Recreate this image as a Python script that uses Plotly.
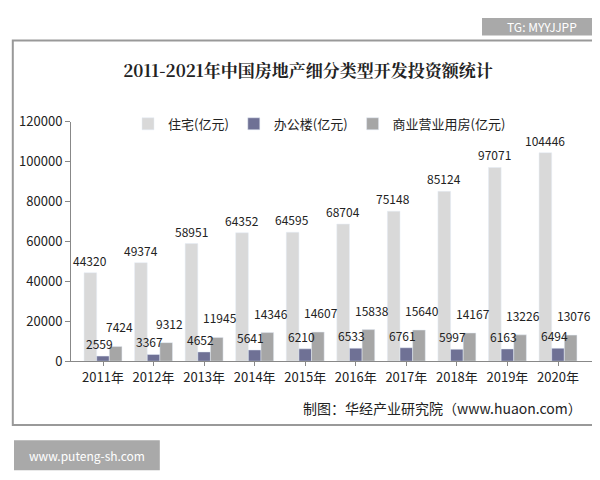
import plotly.graph_objects as go

years = ["2011年","2012年","2013年","2014年","2015年","2016年","2017年","2018年","2019年","2020年"]
residential = [44320,49374,58951,64352,64595,68704,75148,85124,97071,104446]
office = [2559,3367,4652,5641,6210,6533,6761,5997,6163,6494]
commercial = [7424,9312,11945,14346,14607,15838,15640,14167,13226,13076]

font = "Noto Sans CJK SC"
fig = go.Figure()
series = [("住宅(亿元)", residential, "#d9d9d9", -13, 2),
          ("办公楼(亿元)", office, "#6f7195", -4, 2),
          ("商业营业用房(亿元)", commercial, "#a6a6a6", 16, 9)]
ann = []
for name, vals, col, xs, ys in series:
    fig.add_bar(x=years, y=vals, name=name, marker_color=col)
    for yr, v in zip(years, vals):
        ann.append(dict(x=yr, y=v, xref="x", yref="y", text=str(v), showarrow=False,
                        xshift=xs, yshift=ys, yanchor="bottom", xanchor="center",
                        font=dict(size=12, color="#222")))

fig.update_layout(
    width=600, height=480, margin=dict(l=0, r=0, t=0, b=0),
    paper_bgcolor="white", plot_bgcolor="white",
    font=dict(family=font, size=12, color="#222"),
    barmode="group", bargap=0.25, bargroupgap=0.0,
    xaxis=dict(domain=[0.105, 0.975], showline=True, linecolor="#888", ticks="outside",
               tickcolor="#888", ticklen=4, tickfont=dict(size=13)),
    yaxis=dict(domain=[0.2555, 0.775], range=[0, 120000], dtick=20000, showgrid=False,
               showline=True, linecolor="#888", ticks="outside", tickcolor="#888",
               tickfont=dict(size=13), tickformat="d"),
    legend=dict(orientation="h", x=0.2, y=0.803, xanchor="left", yanchor="top",
                font=dict(size=13), itemwidth=30, bgcolor="rgba(0,0,0,0)"),
    title=dict(text="<b>2011-2021年中国房地产细分类型开发投资额统计</b>", x=0.5, y=0.869,
               xanchor="center", yanchor="middle", font=dict(size=17, family="Noto Serif CJK SC, " + font)),
    shapes=[dict(type="rect", xref="paper", yref="paper", x0=0.008, x1=0.988, y0=0.117, y1=0.951,
                 line=dict(color="#999", width=2), fillcolor="rgba(0,0,0,0)"),
            dict(type="rect", xref="paper", yref="paper", x0=0.79, x1=0.99, y0=0.962, y1=1.0,
                 line=dict(width=0), fillcolor="#a9a9a9"),
            dict(type="rect", xref="paper", yref="paper", x0=0.01, x1=0.253, y0=0.019, y1=0.084,
                 line=dict(width=0), fillcolor="#a9a9a9")],
    annotations=ann + [
        dict(text="制图：华经产业研究院（www.huaon.com）", xref="paper", yref="paper", x=0.96, y=0.154,
             xanchor="right", yanchor="middle", showarrow=False, font=dict(size=14)),
        dict(text="TG: MYYJJPP", xref="paper", yref="paper", x=0.89, y=0.981, xanchor="center",
             yanchor="middle", showarrow=False, font=dict(size=12, color="white")),
        dict(text="www.puteng-sh.com", xref="paper", yref="paper", x=0.131, y=0.052, xanchor="center",
             yanchor="middle", showarrow=False, font=dict(size=12, color="white")),
    ],
)
fig.write_html("out.html")
